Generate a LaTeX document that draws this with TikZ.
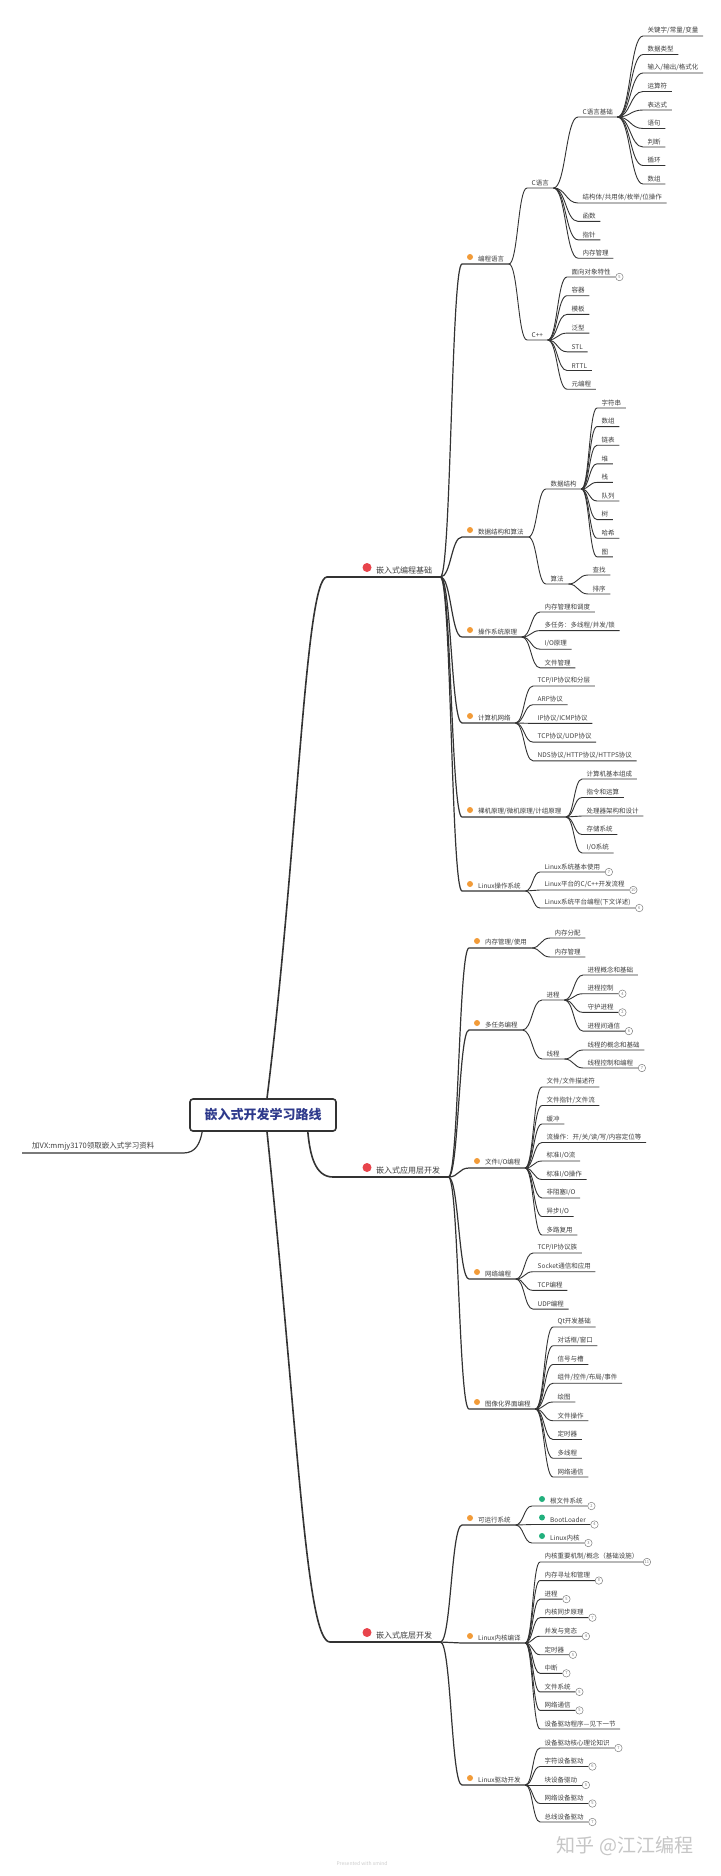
\documentclass[tikz,border=0pt]{standalone}
\usepackage{fontspec}
\setmainfont{Noto Sans CJK SC}
\usetikzlibrary{calc}

\definecolor{inkline}{HTML}{333333}
\definecolor{inktext}{HTML}{404040}
\definecolor{rootblue}{HTML}{2E3A8C}
\definecolor{dotred}{HTML}{E8444C}
\definecolor{dotorange}{HTML}{F29B38}
\definecolor{dotgreen}{HTML}{22B07D}
\definecolor{countgray}{HTML}{808080}

\begin{document}
\begin{tikzpicture}[x=1pt,y=-1pt,
  leaf/.style={anchor=south west,inner xsep=4.5pt,inner ysep=2pt,text=inktext,font=\fontsize{6.5}{7}\selectfont},
  l2topic/.style={leaf,execute at begin node={\hspace*{11.5pt}}},
  greenleaf/.style={leaf,execute at begin node={\hspace*{13.5pt}}},
  l1topic/.style={anchor=south west,inner xsep=8pt,inner ysep=2.5pt,text=inktext,font=\fontsize{8}{9}\selectfont,execute at begin node={\hspace*{11pt}}},
  rootbox/.style={draw=inkline,line width=1.6pt,rounded corners=3pt,fill=white,minimum width=146pt,minimum height=32pt,text=rootblue,font=\fontsize{13}{14}\selectfont\bfseries},
  countmark/.style={circle,draw=countgray,line width=0.5pt,inner sep=0pt,minimum size=7.5pt,anchor=west,text=countgray,font=\fontsize{4}{4}\selectfont},
  trunk/.style={draw=inkline,line width=1.6pt},
  limb/.style={draw=inkline,line width=1.2pt},
  twig/.style={draw=inkline,line width=0.9pt},
  sbend/.style={to path={.. controls ($(\tikztostart)!.5!(\tikztotarget|-\tikztostart)$) and ($(\tikztotarget)!.5!(\tikztostart|-\tikztotarget)$) .. (\tikztotarget)}}]

\fill[white] (0,0) rectangle (720,1876);
\useasboundingbox (0,0) rectangle (720,1876);

% root and side note
\node[rootbox] (root) at (263,1115) {嵌入式开发学习路线};
\node[anchor=south west,inner xsep=10pt,inner ysep=2pt,text width=141pt,text=inktext,font=\fontsize{7.5}{8}\selectfont] (vx) at (22,1153) {加VX:mmjy3170领取嵌入式学习资料};
\draw[limb] (vx.south west) -- (vx.south east) .. controls (196,1153) and (200,1143) .. ([xshift=13pt]root.south west);

% main topics
\node[l1topic] (base) at (357,577) {嵌入式编程基础};
\node[l1topic] (app) at (357,1177) {嵌入式应用层开发};
\node[l1topic] (low) at (357,1642) {嵌入式底层开发};
\coordinate (in1) at (327,577);
\coordinate (in2) at (333,1177);
\coordinate (in3) at (330,1642);
\draw[trunk] ([xshift=4pt]root.north) .. controls (298,850) and (305,577) .. (in1) -- (base.south west) -- (base.south east);
\draw[trunk] ([xshift=-29pt]root.south east) .. controls (310,1155) and (315,1177) .. (in2) -- (app.south west) -- (app.south east);
\draw[trunk] ([xshift=4pt]root.south) .. controls (298,1430) and (306,1642) .. (in3) -- (low.south west) -- (low.south east);

% second level
\node[l2topic] (lang) at (462,264) {编程语言};
\node[l2topic] (dsa) at (462,537) {数据结构和算法};
\node[l2topic] (os) at (462,637) {操作系统原理};
\node[l2topic] (net) at (462,723) {计算机网络};
\node[l2topic] (arch) at (462,817) {裸机原理/微机原理/计组原理};
\node[l2topic] (linux) at (462,891) {Linux操作系统};
\node[l2topic] (mem) at (469,948) {内存管理/使用};
\node[l2topic] (task) at (469,1030) {多任务编程};
\node[l2topic] (fio) at (469,1168) {文件I/O编程};
\node[l2topic] (sock) at (469,1279) {网络编程};
\node[l2topic] (gui) at (469,1409) {图像化界面编程};
\node[l2topic] (runsys) at (462,1525) {可运行系统};
\node[l2topic] (kern) at (462,1643) {Linux内核编译};
\node[l2topic] (drv) at (462,1785) {Linux驱动开发};
\foreach \c in {lang,dsa,os,net,arch,linux}
  \draw[limb] (base.south east) to[sbend] (\c.south west) -- (\c.south east);
\foreach \c in {mem,task,fio,sock,gui}
  \draw[limb] (app.south east) to[sbend] (\c.south west) -- (\c.south east);
\foreach \c in {runsys,kern,drv}
  \draw[limb] (low.south east) to[sbend] (\c.south west) -- (\c.south east);

% third level with children
\node[leaf] (clang) at (527,188) {C语言};
\node[leaf] (cpp) at (527,340) {C++};
\node[leaf] (cbasic) at (578,117) {C语言基础};
\node[leaf] (ds) at (546,489) {数据结构};
\node[leaf] (algo) at (546,584) {算法};
\node[leaf] (proc) at (542,1000) {进程};
\node[leaf] (thr) at (542,1059) {线程};
\foreach \p/\c in {lang/clang,lang/cpp,clang/cbasic,dsa/ds,dsa/algo,task/proc,task/thr}
  \draw[twig] (\p.south east) to[sbend] (\c.south west) -- (\c.south east);

% leaves
\foreach \lbl [count=\i] in {关键字/常量/变量,数据类型,输入/输出/格式化,运算符,表达式,语句,判断,循环,数组}
  \node[leaf] (cb\i) at (643,{36+18.5*(\i-1)}) {\lbl};
\foreach \lbl [count=\i] in {结构体/共用体/枚举/位操作,函数,指针,内存管理}
  \node[leaf] (cc\i) at (578,{203+18.4*(\i-1)}) {\lbl};
\foreach \lbl [count=\i] in {面向对象特性,容器,模板,泛型,STL,RTTL,元编程}
  \node[leaf] (cpp\i) at (567,{277+18.7*(\i-1)}) {\lbl};
\foreach \lbl [count=\i] in {字符串,数组,链表,堆,栈,队列,树,哈希,图}
  \node[leaf] (ds\i) at (597,{408+18.6*(\i-1)}) {\lbl};
\foreach \lbl [count=\i] in {查找,排序}
  \node[leaf] (al\i) at (588,{575+19*(\i-1)}) {\lbl};
\foreach \lbl [count=\i] in {内存管理和调度,多任务：多线程/并发/锁,I/O原理,文件管理}
  \node[leaf] (os\i) at (540,{612+18.6*(\i-1)}) {\lbl};
\foreach \lbl [count=\i] in {TCP/IP协议和分层,ARP协议,IP协议/ICMP协议,TCP协议/UDP协议,NDS协议/HTTP协议/HTTPS协议}
  \node[leaf] (net\i) at (533,{686+18.7*(\i-1)}) {\lbl};
\foreach \lbl [count=\i] in {计算机基本组成,指令和运算,处理器架构和设计,存储系统,I/O系统}
  \node[leaf] (ar\i) at (582,{779+18.5*(\i-1)}) {\lbl};
\foreach \lbl [count=\i] in {Linux系统基本使用,Linux平台的C/C++开发流程,Linux系统平台编程(下文详述)}
  \node[leaf] (lx\i) at (540,{872+18*(\i-1)}) {\lbl};
\foreach \lbl [count=\i] in {内存分配,内存管理}
  \node[leaf] (mem\i) at (550,{938+19*(\i-1)}) {\lbl};
\foreach \lbl [count=\i] in {进程概念和基础,进程控制,守护进程,进程间通信}
  \node[leaf] (pr\i) at (583,{975+18.7*(\i-1)}) {\lbl};
\foreach \lbl [count=\i] in {线程的概念和基础,线程控制和编程}
  \node[leaf] (th\i) at (583,{1050+18*(\i-1)}) {\lbl};
\foreach \lbl [count=\i] in {文件/文件描述符,文件指针/文件流,缓冲,流操作：开/关/读/写/内容定位等,标准I/O流,标准I/O操作,非阻塞I/O,异步I/O,多路复用}
  \node[leaf] (fio\i) at (542,{1087+18.5*(\i-1)}) {\lbl};
\foreach \lbl [count=\i] in {TCP/IP协议族,Socket通信和应用,TCP编程,UDP编程}
  \node[leaf] (sk\i) at (533,{1253+18.7*(\i-1)}) {\lbl};
\foreach \lbl [count=\i] in {Qt开发基础,对话框/窗口,信号与槽,组件/控件/布局/事件,绘图,文件操作,定时器,多线程,网络通信}
  \node[leaf] (gui\i) at (553,{1327+18.75*(\i-1)}) {\lbl};
\foreach \lbl [count=\i] in {根文件系统,BootLoader,Linux内核}
  \node[greenleaf] (rs\i) at (532,{1506+18.5*(\i-1)}) {\lbl};
\foreach \lbl [count=\i] in {内核重要机制/概念（基础设施）,内存寻址和管理,进程,内核同步原理,并发与竞态,定时器,中断,文件系统,网络通信,设备驱动程序—见下一节}
  \node[leaf] (kn\i) at (540,{1562+18.55*(\i-1)}) {\lbl};
\foreach \lbl [count=\i] in {设备驱动核心理论知识,字符设备驱动,块设备驱动,网络设备驱动,总线设备驱动}
  \node[leaf] (dv\i) at (540,{1748+18.5*(\i-1)}) {\lbl};

% leaf connectors
\foreach \p/\c/\n in {cbasic/cb/9,clang/cc/4,cpp/cpp/7,ds/ds/9,algo/al/2,os/os/4,net/net/5,arch/ar/5,linux/lx/3,
    mem/mem/2,proc/pr/4,thr/th/2,fio/fio/9,sock/sk/4,gui/gui/9,runsys/rs/3,kern/kn/10,drv/dv/5}
  \foreach \i in {1,...,\n}
    \draw[twig] (\p.south east) to[sbend] (\c\i.south west) -- (\c\i.south east);

% coloured markers
\foreach \n in {base,app,low}
  \fill[dotred] ([shift={(10pt,9.5pt)}]\n.south west) circle (4.5pt);
\foreach \n in {lang,dsa,os,net,arch,linux,mem,task,fio,sock,gui,runsys,kern,drv}
  \fill[dotorange] ([shift={(8pt,7pt)}]\n.south west) circle (3pt);
\foreach \n in {rs1,rs2,rs3}
  \fill[dotgreen] ([shift={(10pt,7pt)}]\n.south west) circle (3pt);

% collapsed counts
\foreach \n/\k in {cpp1/5,lx1/7,lx2/10,lx3/6,pr2/4,pr3/2,pr4/6,th2/7,rs1/2,rs2/4,rs3/3,
    kn1/11,kn2/8,kn3/5,kn4/7,kn5/4,kn6/5,kn7/7,kn8/5,kn9/5,dv1/7,dv2/6,dv3/5,dv4/5,dv5/7}
  \node[countmark] (\n-k) at (\n.south east) {\k};

% footer
\node[text=gray!45,font=\fontsize{19}{20}\selectfont] (mark) at (625,1846) {知乎 @江江编程};
\node[text=gray!40,font=\fontsize{5}{6}\selectfont] (credit) at (362,1864) {Presented with xmind};
\end{tikzpicture}
\end{document}
